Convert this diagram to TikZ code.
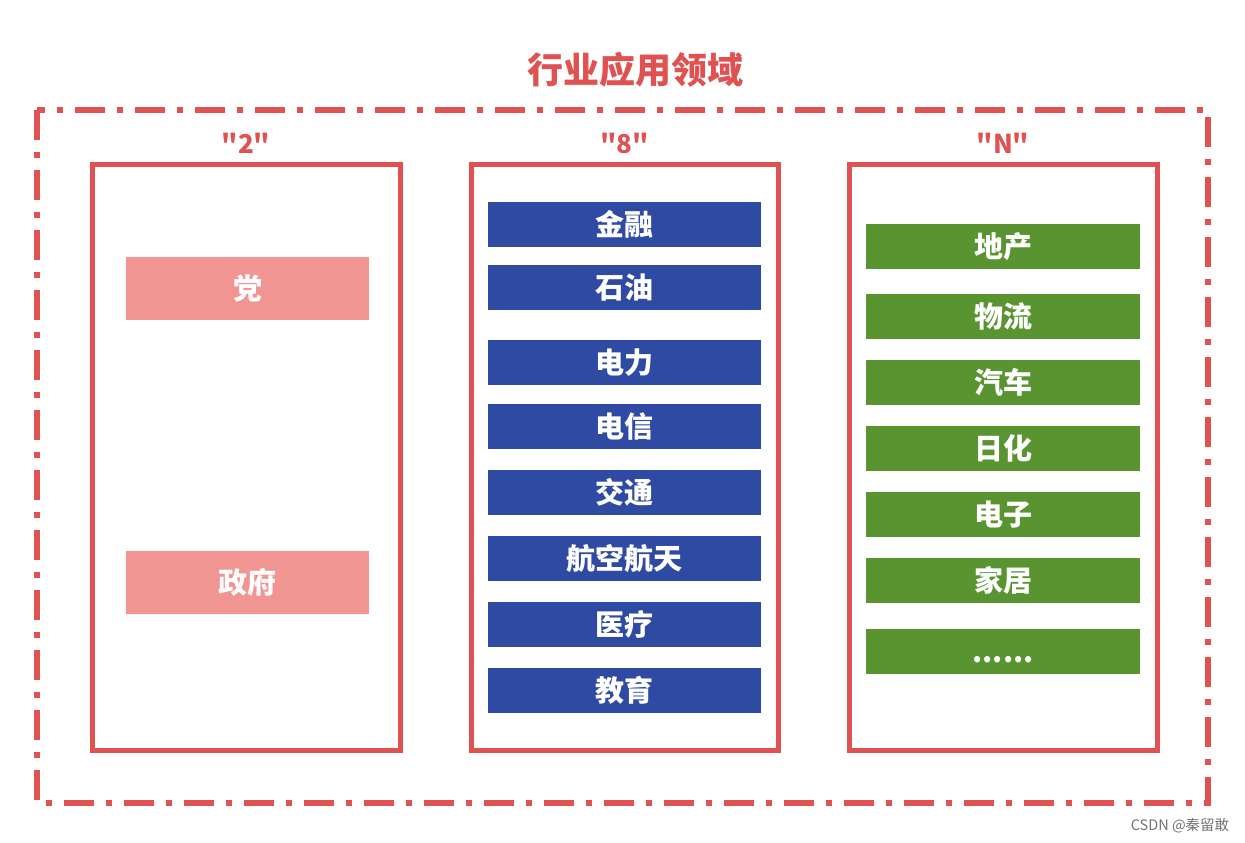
\documentclass[tikz,border=0pt]{standalone}
\usepackage{fontspec}
\newfontfamily\cjk{Noto Sans CJK SC}
\definecolor{cred}{HTML}{E05252}
\definecolor{cpink}{HTML}{F09591}
\definecolor{cblue}{HTML}{2F4AA3}
\definecolor{cgreen}{HTML}{5A9430}
\tikzset{
  col/.style={draw=cred, line width=5pt, fill=none},
  item/.style={inner sep=0pt, minimum height=45pt, text=white, font=\cjk\bfseries\fontsize{29}{29}\selectfont},
  pinkitem/.style={item, fill=cpink, minimum width=243pt, minimum height=63pt},
  blueitem/.style={item, fill=cblue, minimum width=273pt},
  greenitem/.style={item, fill=cgreen, minimum width=274pt},
  head/.style={text=cred, font=\cjk\bfseries\fontsize{26}{26}\selectfont, inner sep=0pt}
}
\begin{document}
\begin{tikzpicture}[x=1pt,y=-1pt]
\useasboundingbox (0,0) rectangle (1245,843);
\node[text=cred, font=\cjk\bfseries\fontsize{36}{36}\selectfont, inner sep=0pt] (title) at (635,70) {行业应用领域};
\draw[cred, line width=6pt, dash pattern=on 30pt off 12pt on 6pt off 12pt] (37,110) rectangle (1208,803);
% columns
\node[col, minimum width=308pt, minimum height=586pt, inner sep=0pt] (c1) at (246,457) {};
\node[col, minimum width=307pt, minimum height=586pt, inner sep=0pt] (c2) at (624.5,457) {};
\node[col, minimum width=308pt, minimum height=586pt, inner sep=0pt] (c3) at (1003,457) {};
\node[head] (h1) at (246,143) {"2"};
\node[head] (h2) at (624.5,143) {"8"};
\node[head] (h3) at (1003,143) {"N"};
% left
\node[pinkitem] (p1) at (247.5,288) {党};
\node[pinkitem] (p2) at (247.5,582) {政府};
% middle
\node[blueitem] (b1) at (624.5,224.5) {金融};
\node[blueitem] (b2) at (624.5,287.5) {石油};
\node[blueitem] (b3) at (624.5,362.5) {电力};
\node[blueitem] (b4) at (624.5,426.5) {电信};
\node[blueitem] (b5) at (624.5,492.5) {交通};
\node[blueitem] (b6) at (624.5,558.5) {航空航天};
\node[blueitem] (b7) at (624.5,624.5) {医疗};
\node[blueitem] (b8) at (624.5,690.5) {教育};
% right
\node[greenitem] (g1) at (1003,246.5) {地产};
\node[greenitem] (g2) at (1003,316.5) {物流};
\node[greenitem] (g3) at (1003,382.5) {汽车};
\node[greenitem] (g4) at (1003,448.5) {日化};
\node[greenitem] (g5) at (1003,514.5) {电子};
\node[greenitem] (g6) at (1003,580.5) {家居};
\node[greenitem] (g7) at (1003,651.5) {\smash{\raisebox{-11pt}{......}}};
% watermark
\node[text=black!55, font=\cjk\fontsize{14.5}{14.5}\selectfont, inner sep=0pt] (wm) at (1180,826) {CSDN @秦留敢};
\end{tikzpicture}
\end{document}
